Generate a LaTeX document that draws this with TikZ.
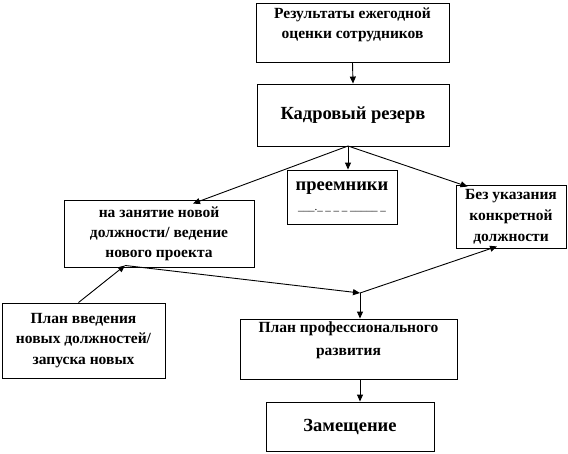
\documentclass[tikz,border=0pt]{standalone}
\usepackage{fontspec}
\setmainfont{Liberation Serif}[BoldFont={Liberation Serif Bold}]
\usetikzlibrary{arrows.meta, positioning, calc}

\begin{document}
\begin{tikzpicture}[x=1pt, y=-1pt,
	box/.style={draw, line width=0.9pt, align=center, inner sep=2pt,
		font=\bfseries\fontsize{15.5}{20.5}\selectfont},
	bigfont/.style={font=\bfseries\fontsize{18.5}{22}\selectfont},
	conn/.style={line width=0.9pt, -{Triangle[length=7pt, width=6pt]}}]
	\useasboundingbox (0,0) rectangle (568,453);
	% boxes
	\node[box, minimum width=193pt, minimum height=59pt] (res) at (352.5,32.5)
		{Результаты ежегодной\\оценки сотрудников\\[-2pt]};
	\node[box, bigfont, minimum width=192pt, minimum height=62pt] (kadr) at (353,115)
		{Кадровый резерв};
	\node[box, bigfont, minimum width=110pt, minimum height=54pt] (preem) at (342,197)
		{преемники\\[-2pt]
		{\mdseries\fontsize{11}{11}\selectfont \_\_\_.\_ \_ \_ \_ \_\_\_\_\_ \_}};
	\node[box, minimum width=110pt, minimum height=63pt,
		font=\bfseries\fontsize{15.5}{21}\selectfont] (bez) at (511,216.5)
		{Без указания\\конкретной\\должности};
	\node[box, minimum width=190pt, minimum height=67pt,
		font=\bfseries\fontsize{15.5}{20}\selectfont] (zan) at (159,233.5)
		{на занятие новой\\должности/ ведение\\нового проекта};
	\node[box, minimum width=163pt, minimum height=75pt,
		font=\bfseries\fontsize{15.5}{20.5}\selectfont] (vved) at (83.5,340.5)
		{План введения\\новых должностей/\\запуска новых};
	\node[box, minimum width=217pt, minimum height=60pt,
		font=\bfseries\fontsize{15.5}{23}\selectfont] (razv) at (348.5,349)
		{План профессионального\\развития\\[-2pt]};
	\node[box, bigfont, minimum width=168pt, minimum height=49pt] (zam) at (350,426.5)
		{Замещение};
	% connectors
	\coordinate (fork) at (348,146);
	\coordinate (joint) at (360,293);
	\draw[conn] (res.south) -- (kadr.north);
	\draw[conn] (fork) -- ([xshift=34pt, yshift=-4pt]zan.north);
	\draw[conn] (fork) -- (fork |- preem.north);
	\draw[conn] (fork) -- ([xshift=12pt, yshift=-2pt]bez.north west);
	\draw[conn] ([xshift=-5pt]vved.north) -- ([xshift=-34pt, yshift=2pt]zan.south);
	\draw[conn] ([xshift=-34pt, yshift=2pt]zan.south) -- (joint);
	\draw[conn] (joint) -- ([xshift=-14pt, yshift=2pt]bez.south);
	\draw[conn] (joint) -- (joint |- razv.north);
	\draw[conn] (razv.south -| joint) -- (zam.north -| joint);
\end{tikzpicture}
\end{document}
